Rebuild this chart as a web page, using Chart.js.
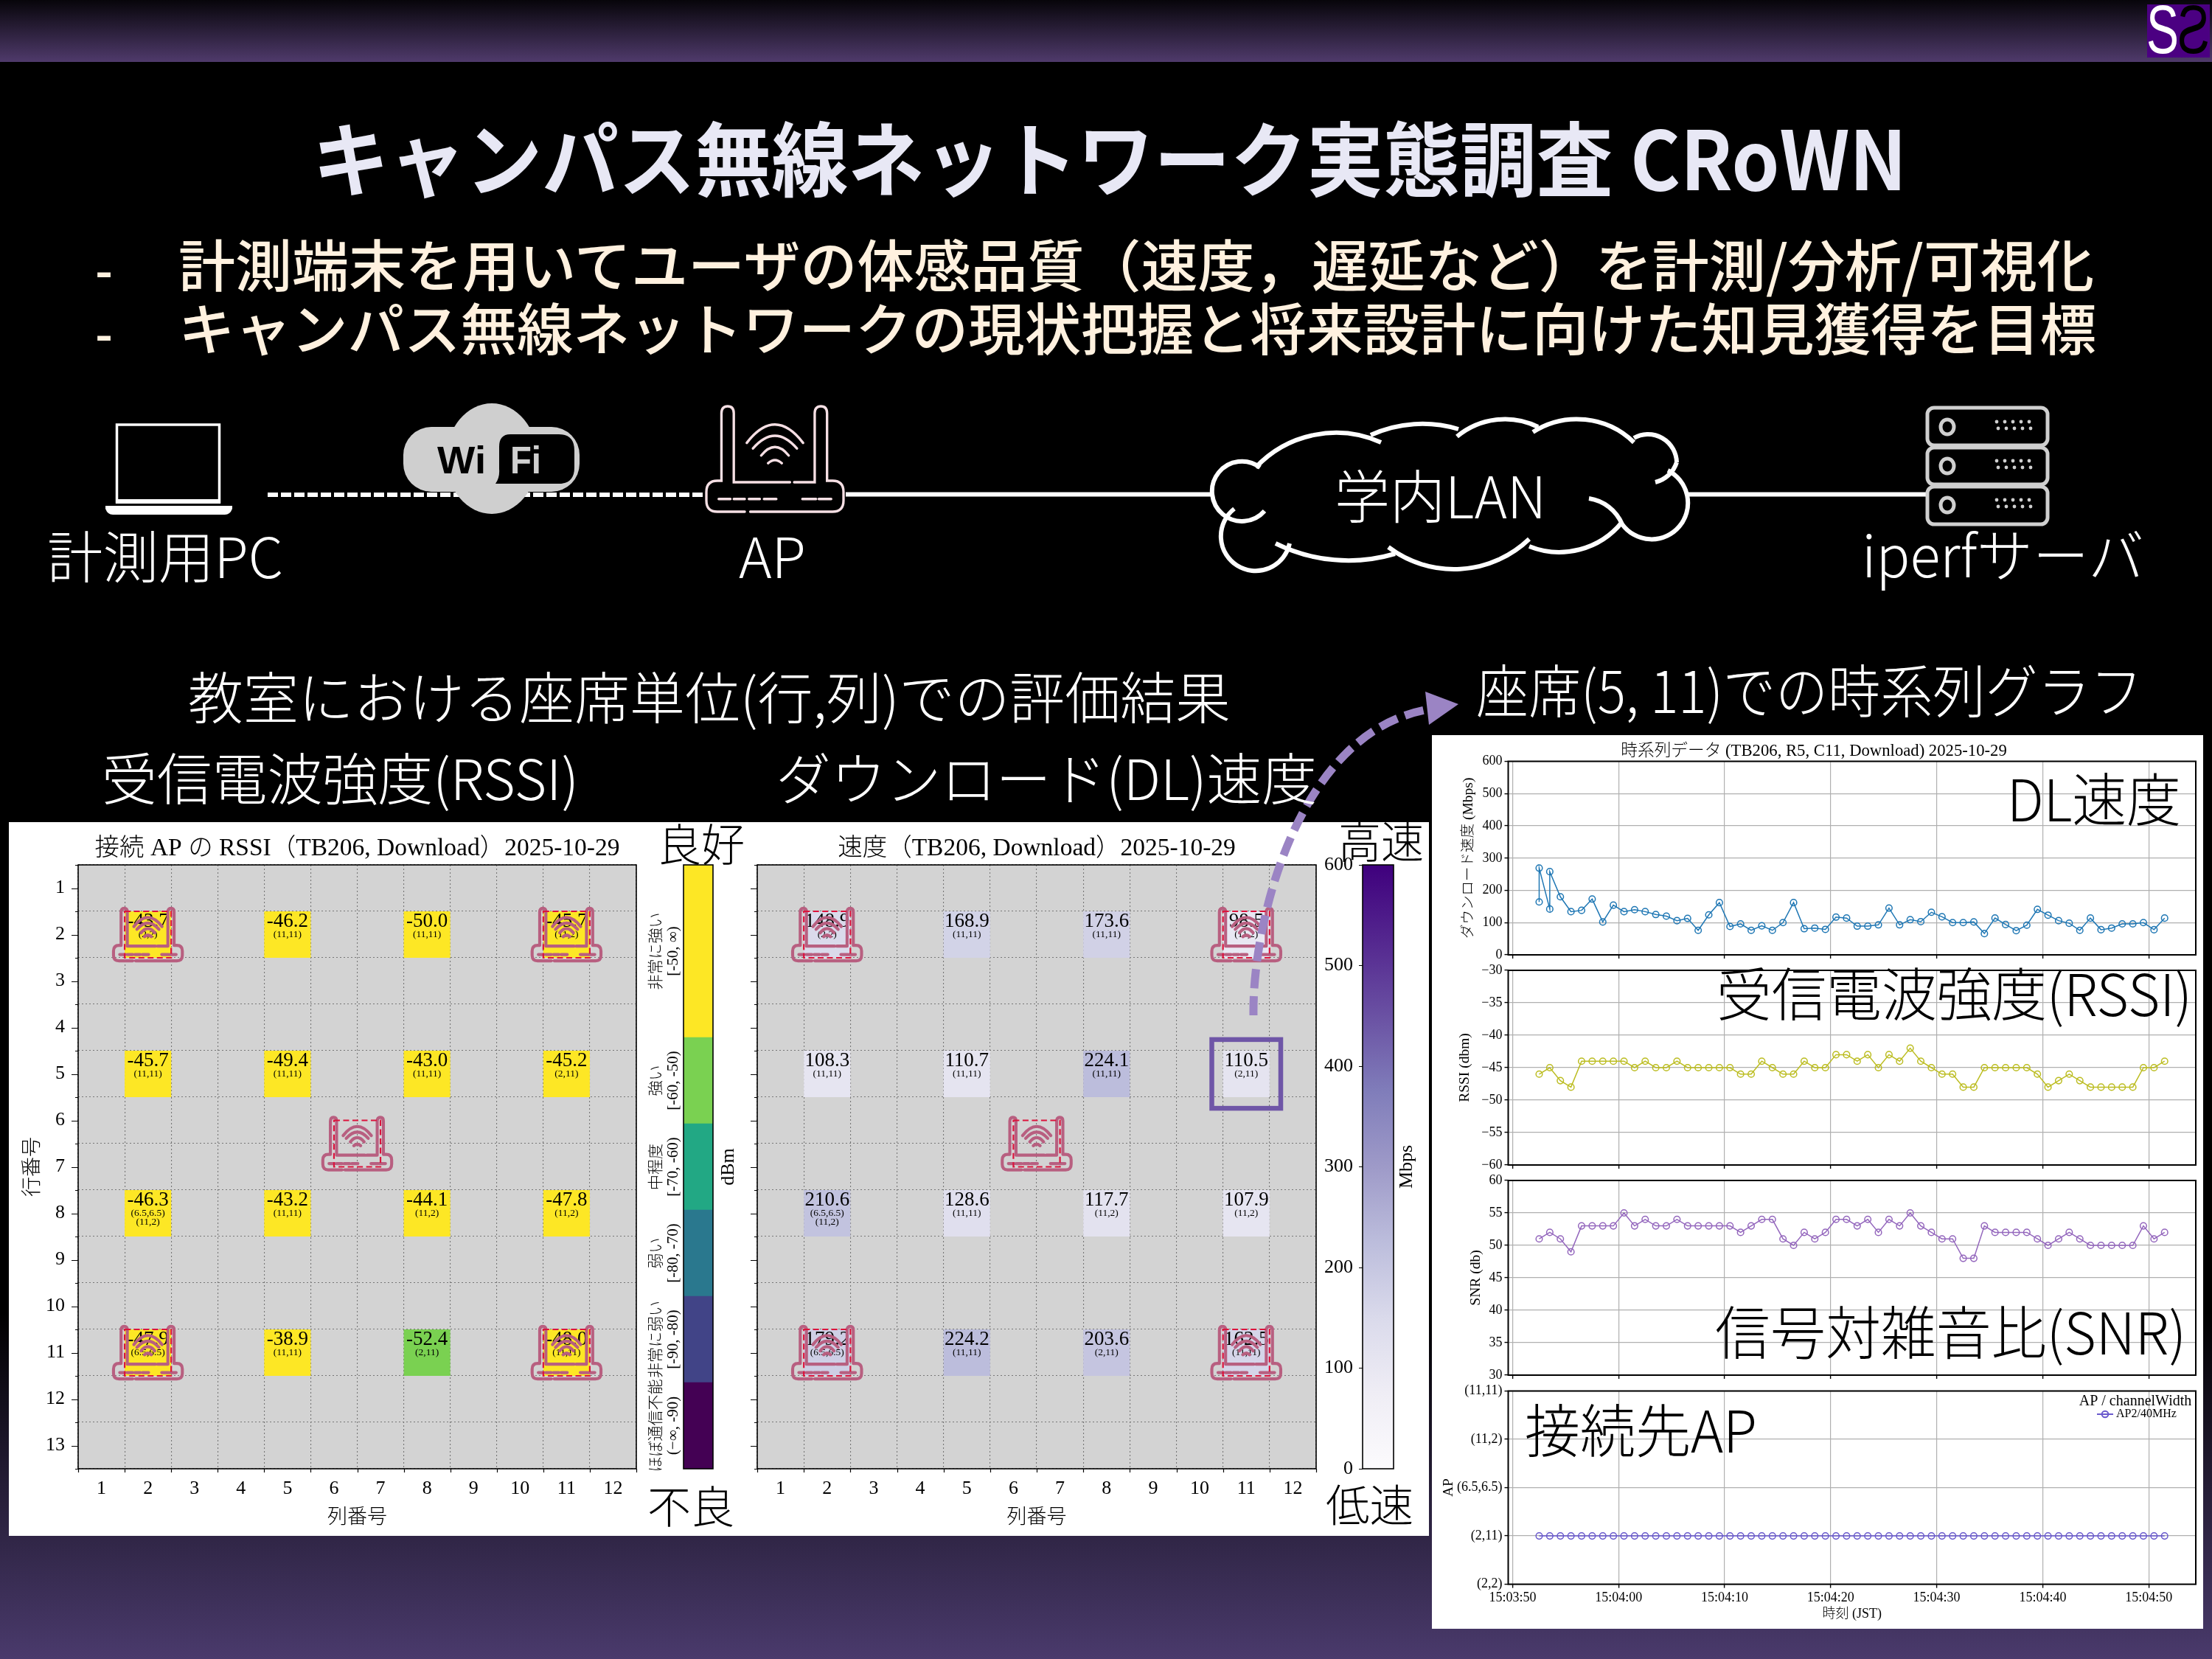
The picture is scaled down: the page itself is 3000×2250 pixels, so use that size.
<!DOCTYPE html>
<html lang="ja"><head><meta charset="utf-8">
<script src="https://cdn.jsdelivr.net/npm/chart.js@4"></script>
<style>
html,body{margin:0;padding:0;width:3000px;height:2250px;overflow:hidden}
body{position:relative;background:linear-gradient(180deg,#000 0,#000 1780px,#4a3a6c 2250px)}
#band{position:absolute;left:0;top:0;width:3000px;height:84px;background:linear-gradient(180deg,#07050a 0,#4f3a6b 100%)}
.panel{position:absolute;background:#fff}
canvas{position:absolute;display:block}
.t{position:absolute;white-space:nowrap;line-height:1;transform-origin:0 50%;z-index:6;font-family:"Noto Sans CJK JP"}
svg{position:absolute;left:0;top:0}
</style></head><body>
<div id="band"></div>
<div class="panel" style="left:12px;top:1115px;width:1926px;height:968px"></div>
<div class="panel" style="left:1942px;top:997px;width:1046px;height:1212px"></div>
<canvas id="rssiMap" width="870" height="968" style="left:12px;top:1115px"></canvas>
<canvas id="speedMap" width="810" height="968" style="left:990px;top:1115px"></canvas>
<canvas id="rssiBar" width="140" height="835" style="left:870px;top:1165px"></canvas>
<canvas id="speedBar" width="150" height="865" style="left:1790px;top:1150px"></canvas>
<canvas id="dlChart" width="1046" height="313" style="left:1942px;top:997px"></canvas>
<canvas id="rssiChart" width="1046" height="299" style="left:1942px;top:1296px"></canvas>
<canvas id="snrChart" width="1046" height="299" style="left:1942px;top:1581px"></canvas>
<canvas id="apChart" width="1046" height="343" style="left:1942px;top:1866px"></canvas>
<svg id="deco" width="3000" height="2250" viewBox="0 0 3000 2250" style="z-index:5">
  <!-- logo -->
  <rect x="2912" y="6" width="85" height="72" fill="#4b0082"/>
  <text x="2911" y="72" font-family="Liberation Sans" font-size="92" fill="#fff" textLength="44" lengthAdjust="spacingAndGlyphs">S</text>
  <text transform="translate(2997,72) scale(-1,1)" font-family="Liberation Sans" font-size="92" fill="#000" textLength="44" lengthAdjust="spacingAndGlyphs">S</text>
  <!-- laptop -->
  <rect x="158.5" y="576" width="139" height="105" fill="none" stroke="#fff" stroke-width="3.5"/>
  <rect x="157" y="677" width="142" height="6" fill="#fff"/>
  <path d="M143 686H315V690Q312 698 305 698H153Q146 698 143 690Z" fill="#fff"/>
  <!-- links -->
  <line x1="363" y1="671" x2="958" y2="671" stroke="#fff" stroke-width="6" stroke-dasharray="14 4"/>
  <line x1="1147" y1="670.5" x2="1646" y2="670.5" stroke="#fff" stroke-width="6"/>
  <line x1="2288" y1="670.5" x2="2612" y2="670.5" stroke="#fff" stroke-width="6"/>
  <!-- wifi -->
  <ellipse cx="667" cy="622" rx="62" ry="75" fill="#cfcfcf"/>
  <rect x="547" y="579" width="239" height="88" rx="38" fill="#cfcfcf"/>
  <path d="M692 589H758Q779 589 779 611V634Q779 656 758 656H672Q678 648 677 636V606Q677 589 692 589Z" fill="#000"/>
  <text x="593" y="642" font-family="Liberation Sans" font-weight="700" font-size="52" fill="#000" textLength="66" lengthAdjust="spacingAndGlyphs">Wi</text>
  <text x="692" y="642" font-family="Liberation Sans" font-weight="700" font-size="52" fill="#cfcfcf" textLength="42" lengthAdjust="spacingAndGlyphs">Fi</text>
  <!-- AP -->
  <svg id="apIcon" x="958" y="551" width="186" height="143" viewBox="0 0 100 75" preserveAspectRatio="none" overflow="visible"><path id="apPath" fill="none" stroke="#f6dfe4" stroke-width="1.8" stroke-linecap="round"/></svg>
  <!-- cloud -->
  <path id="cloud" fill="none" stroke="#fff" stroke-width="6"/>
  <!-- server -->
  <g fill="none" stroke="#cfcfcf" stroke-width="5">
    <rect x="2614" y="553" width="163" height="51" rx="9"/>
    <rect x="2614" y="607" width="163" height="50" rx="9"/>
    <rect x="2614" y="660" width="163" height="51" rx="9"/>
    <ellipse cx="2641" cy="579" rx="9" ry="10"/>
    <ellipse cx="2641" cy="632" rx="9" ry="10"/>
    <ellipse cx="2641" cy="685" rx="9" ry="10"/>
  </g>
  <g id="dots" fill="#cfcfcf"></g>
  <!-- arrow -->
  <path d="M1700 1377C1698 1250 1762 985 1945 961" fill="none" stroke="#9b84c4" stroke-width="11" stroke-dasharray="26 11"/>
  <path d="M1978 955L1933 938L1938 983Z" fill="#9b84c4"/>
</svg>
<script>
/* ---------- data ---------- */
const columns=[1,2,3,4,5,6,7,8,9,10,11,12];
const rowTicks=[1,2,3,4,5,6,7,8,9,10,11,12,13];
const seatRows=[2,5,8,11];
const seatCols=[2,5,8,11];
const rssiRow2=[-43.7,-46.2,-50.0,-45.7];
const rssiRow5=[-45.7,-49.4,-43.0,-45.2];
const rssiRow8=[-46.3,-43.2,-44.1,-47.8];
const rssiRow11=[-47.9,-38.9,-52.4,-48.0];
const speedRow2=[148.9,168.9,173.6,98.5];
const speedRow5=[108.3,110.7,224.1,110.5];
const speedRow8=[210.6,128.6,117.7,107.9];
const speedRow11=[179.2,224.2,203.6,162.5];
const apRow2=['(2,2)','(11,11)','(11,11)','(11,2)'];
const apRow5=['(11,11)','(11,11)','(11,11)','(2,11)'];
const apRow8=['(6.5,6.5)|(11,2)','(11,11)','(11,2)','(11,2)'];
const apRow11=['(6.5,6.5)','(11,11)','(2,11)','(11,11)'];
const apCols=[2,2,6.5,11,11];
const apRows=[2,11,6.5,2,11];
const bandLo=[-100,-90,-80,-70,-60,-50];
const bandHi=[-90,-80,-70,-60,-50,-30];
const bandColors=['#440154','#414487','#2a788e','#22a884','#7ad151','#fde725'];
const bandNames=['ほぼ通信不能','非常に弱い','弱い','中程度','強い','非常に強い'];
const bandRanges=['(−∞, -90)','[-90, -80)','[-80, -70)','[-70, -60)','[-60, -50)','[-50, ∞)'];
const speedTicks=[0,100,200,300,400,500,600];
const purples=['#fcfbfd','#efedf5','#dadaeb','#bcbddc','#9e9ac8','#807dba','#6a51a3','#54278f','#3f007d'];
const timeTicks=[0,10,20,30,40,50,60];
const timeLabels=['15:03:50','15:04:00','15:04:10','15:04:20','15:04:30','15:04:40','15:04:50'];
const dlTimes=[2.5,2.5,3.5,3.5,4.5,5.5,6.5,7.5,8.5,9.5,10.5,11.5,12.5,13.5,14.5,15.5,16.5,17.5,18.5,19.5,20.5,21.5,22.5,23.5,24.5,25.5,26.5,27.5,28.5,29.5,30.5,31.5,32.5,33.5,34.5,35.5,36.5,37.5,38.5,39.5,40.5,41.5,42.5,43.5,44.5,45.5,46.5,47.5,48.5,49.5,50.5,51.5,52.5,53.5,54.5,55.5,56.5,57.5,58.5,59.5,60.5,61.5];
const dlValues=[164,269,142,258,180,134,138,173,102,154,134,140,134,125,120,106,113,76,124,162,88,96,76,90,76,100,162,81,83,79,117,114,89,89,93,145,93,109,103,132,118,100,100,102,66,114,94,75,92,141,123,106,98,76,114,78,83,96,96,100,78,114];
const sampleTimes=[2.5,3.5,4.5,5.5,6.5,7.5,8.5,9.5,10.5,11.5,12.5,13.5,14.5,15.5,16.5,17.5,18.5,19.5,20.5,21.5,22.5,23.5,24.5,25.5,26.5,27.5,28.5,29.5,30.5,31.5,32.5,33.5,34.5,35.5,36.5,37.5,38.5,39.5,40.5,41.5,42.5,43.5,44.5,45.5,46.5,47.5,48.5,49.5,50.5,51.5,52.5,53.5,54.5,55.5,56.5,57.5,58.5,59.5,60.5,61.5];
const rssiValues=[-46,-45,-47,-48,-44,-44,-44,-44,-44,-45,-44,-45,-45,-44,-45,-45,-45,-45,-45,-46,-46,-44,-45,-46,-46,-44,-45,-45,-43,-43,-44,-43,-45,-43,-44,-42,-44,-45,-46,-46,-48,-48,-45,-45,-45,-45,-45,-46,-48,-47,-46,-47,-48,-48,-48,-48,-48,-45,-45,-44];
const snrValues=[51,52,51,49,53,53,53,53,55,53,54,53,53,54,53,53,53,53,53,52,53,54,54,51,50,52,51,52,54,54,53,54,52,54,53,55,53,52,51,51,48,48,53,52,52,52,52,51,50,51,52,51,50,50,50,50,50,53,51,52];
const apSeries=[1,1,1,1,1,1,1,1,1,1,1,1,1,1,1,1,1,1,1,1,1,1,1,1,1,1,1,1,1,1,1,1,1,1,1,1,1,1,1,1,1,1,1,1,1,1,1,1,1,1,1,1,1,1,1,1,1,1,1,1];
const apNames=['(2,2)','(2,11)','(6.5,6.5)','(11,2)','(11,11)'];

/* ---------- helpers ---------- */
const SERIF='"Liberation Serif","Noto Sans CJK JP"';
Chart.defaults.font.family=SERIF;
Chart.defaults.font.weight='300';
Chart.defaults.color='#000';
Chart.defaults.animation=false;
function hex(h){return [1,3,5].map(i=>parseInt(h.substr(i,2),16));}
function purpleAt(v){const f=Math.max(0,Math.min(1,v/600))*(purples.length-1),i=Math.min(purples.length-2,Math.floor(f)),a=hex(purples[i]),b=hex(purples[i+1]);
  return 'rgb('+a.map((c,k)=>Math.round(c+(b[k]-c)*(f-i))).join(',')+')';}
function bandAt(v){for(let i=bandLo.length-1;i>=0;i--) if(v>=bandLo[i]) return bandColors[i]; return bandColors[0];}
const ROUTER='M28 75H8Q0 75 0 67V61Q0 53 8 53H11V5Q11 0 15.5 0Q20 0 20 5V54H61M64 54H79V5Q79 0 83.5 0Q88 0 88 5V53H92Q100 53 100 61V67Q100 75 92 75H32'+
 'M9 66H17.5M20 66H28M31 66H39M42 66H51M70 66H80M82 66H91'+
 'M29.5 26Q50 0 70.5 26M34 30Q50 12 66 30M40 35Q50 23 60 35M45 40.5Q50 36 55 40.5';
document.getElementById('apPath').setAttribute('d',ROUTER);
const routerPath=new Path2D(ROUTER);
const frame={id:'frame',afterDraw(c){const a=c.chartArea,x=c.ctx;x.save();x.strokeStyle='#000';x.lineWidth=c.options.frameWidth||1.6;x.strokeRect(a.left,a.top,a.right-a.left,a.bottom-a.top);x.restore();}};

function heatChart(id,rowsData,colorOf,title,padLeftW,padRight,yLabels,yTitle,hi){
  const cells=[];
  seatRows.forEach((r,i)=>seatCols.forEach((c,j)=>cells.push({x:c,y:[r-.5,r+.5],v:rowsData[i][j],ap:[apRow2,apRow5,apRow8,apRow11][i][j]})));
  columns.forEach(c=>cells.push({x:c,y:null}));
  const halfTicks=[];for(let i=0;i<=24;i++)halfTicks.push(.5+i*.5);
  const vTicks=[];for(let i=0;i<=26;i++)vTicks.push(.5+i*.5);
  const gridCol=ctx=>Number.isInteger(ctx.tick.value)?'rgba(0,0,0,0)':'#777';
  const overlay={id:'overlay',
    beforeDraw(c){const a=c.chartArea,x=c.ctx;x.save();x.fillStyle='#d3d3d3';x.fillRect(a.left,a.top,a.right-a.left,a.bottom-a.top);x.restore();},
    afterDatasetsDraw(c){const x=c.ctx,sx=c.scales.x,sy=c.scales.y;x.save();x.fillStyle='#000';x.textAlign='center';x.textBaseline='middle';
      cells.forEach(d=>{if(d.v===undefined)return;const px=sx.getPixelForValue(d.x),py=sy.getPixelForValue((d.y[0]+d.y[1])/2);
        x.font='27px "Liberation Serif"';x.fillText(d.v.toFixed(1),px,py-17.5);
        x.font='13.5px "Liberation Serif"';d.ap.split('|').forEach((l,k)=>x.fillText(l,px,py+k*11.5));});
      apCols.forEach((cv,i)=>{const l=sx.getPixelForValue(cv-.5),r=sx.getPixelForValue(cv+.5),t=sy.getPixelForValue(apRows[i]-.5),b=sy.getPixelForValue(apRows[i]+.5);
        const il=sx.getPixelForValue(cv-.74),ir=sx.getPixelForValue(cv+.74),it=sy.getPixelForValue(apRows[i]-.565),ib=sy.getPixelForValue(apRows[i]+.565);
        x.save();x.translate(il,it);x.scale((ir-il)/100,(ib-it)/75);x.strokeStyle='#b85f80';x.lineWidth=4.4;x.lineCap='round';x.lineJoin='round';x.stroke(routerPath);x.restore();
        x.save();x.strokeStyle='#dc143c';x.lineWidth=2.2;x.setLineDash([8,4.5]);x.strokeRect(l,t,r-l,b-t);x.restore();});
      if(hi){x.strokeStyle='#6f56a7';x.lineWidth=6.5;const l=sx.getPixelForValue(hi[0]-.74),r=sx.getPixelForValue(hi[0]+.74),t=sy.getPixelForValue(hi[1]-.74),b=sy.getPixelForValue(hi[1]+.74);x.strokeRect(l,t,r-l,b-t);}
      x.restore();},
    afterDraw(c){const x=c.ctx,sx=c.scales.x,sy=c.scales.y,a=c.chartArea;x.save();x.strokeStyle='#000';x.lineWidth=1.2;x.beginPath();
      halfTicks.forEach(v=>{if(!Number.isInteger(v)){const p=Math.round(sx.getPixelForValue(v))+.5;x.moveTo(p,a.bottom);x.lineTo(p,a.bottom+5);}});
      vTicks.forEach(v=>{const p=Math.round(sy.getPixelForValue(v))+.5,len=Number.isInteger(v)?9:4;x.moveTo(a.left,p);x.lineTo(a.left-len,p);});
      x.stroke();x.restore();}};
  return new Chart(document.getElementById(id),{type:'bar',
    data:{datasets:[{data:cells,backgroundColor:ctx=>ctx.raw&&ctx.raw.v!==undefined?colorOf(ctx.raw.v):'rgba(0,0,0,0)',borderWidth:0,barPercentage:2,categoryPercentage:1}]},
    plugins:[overlay,frame],
    options:{responsive:false,devicePixelRatio:1,layout:{autoPadding:false,padding:{right:padRight}},
      plugins:{legend:{display:false},tooltip:{enabled:false},
        title:{display:true,text:title,fullSize:false,font:{size:33.5,weight:'300'},padding:{top:16,bottom:1.8}}},
      scales:{
        x:{type:'linear',offset:false,min:.5,max:12.5,afterBuildTicks:s=>{s.ticks=halfTicks.map(v=>({value:v}));},
          grid:{offset:false,color:gridCol,lineWidth:1.1,drawTicks:false},border:{display:false,dash:[2,3]},
          ticks:{autoSkip:false,maxRotation:0,padding:12,font:{size:26},callback:v=>Number.isInteger(v)?String(columns[v-1]):''},
          title:{display:true,text:'列番号',font:{size:27},padding:{top:0,bottom:8}},
          afterFit:s=>{s.height=91;}},
        y:{type:'linear',reverse:true,min:.5,max:13.5,afterBuildTicks:s=>{s.ticks=vTicks.map(v=>({value:v}));},
          grid:{color:gridCol,lineWidth:1.1,drawTicks:false},border:{display:false,dash:[2,3]},
          ticks:{display:yLabels,autoSkip:false,padding:18,font:{size:26},callback:v=>Number.isInteger(v)?String(rowTicks[v-1]):''},
          title:{display:!!yTitle,text:yTitle,font:{size:27},padding:{top:17,bottom:0}},
          afterFit:s=>{s.width=padLeftW;}}
      }}});
}
heatChart('rssiMap',[rssiRow2,rssiRow5,rssiRow8,rssiRow11],bandAt,'接続 AP の RSSI（TB206, Download）2025-10-29',94,19,true,'行番号',null);
heatChart('speedMap',[speedRow2,speedRow5,speedRow8,speedRow11],purpleAt,'速度（TB206, Download）2025-10-29',37,15,false,'',[11,5]);

/* colour bars */
new Chart(document.getElementById('rssiBar'),{type:'bar',
  data:{labels:[''],datasets:bandLo.map((lo,i)=>({data:[[lo,bandHi[i]]],backgroundColor:bandColors[i],borderWidth:0,barPercentage:1,categoryPercentage:1,grouped:false}))},
  plugins:[frame,{id:'cbLabels',afterDraw(c){const x=c.ctx,a=c.chartArea,s=c.scales.y;x.save();x.fillStyle='#000';x.textAlign='center';x.textBaseline='middle';
    bandLo.forEach((lo,i)=>{const my=s.getPixelForValue((lo+bandHi[i])/2);
      x.save();x.translate(a.left-39,my);x.rotate(-Math.PI/2);x.font='300 21px "Noto Sans CJK JP"';x.fillText(bandNames[i],0,0);x.restore();
      x.save();x.translate(a.left-14,my);x.rotate(-Math.PI/2);x.font='21px "Liberation Serif"';x.fillText(bandRanges[i],0,0);x.restore();});
    x.save();x.translate(a.right+21,(a.top+a.bottom)/2);x.rotate(-Math.PI/2);x.font='26px "Liberation Serif"';x.fillText('dBm',0,0);x.restore();x.restore();}}],
  options:{responsive:false,devicePixelRatio:1,layout:{autoPadding:false,padding:{left:57,right:43,top:8,bottom:8}},
    plugins:{legend:{display:false},tooltip:{enabled:false}},
    scales:{x:{display:false},y:{display:false,min:-100,max:-30}}}});
new Chart(document.getElementById('speedBar'),{type:'bar',
  data:{labels:[''],datasets:[{data:[[speedTicks[0],speedTicks[speedTicks.length-1]]],borderWidth:0,barPercentage:1,categoryPercentage:1,
    backgroundColor:ctx=>{const s=ctx.chart.scales.y;if(!s)return purples[0];const p0=s.getPixelForValue(0),p1=s.getPixelForValue(600);if(!isFinite(p0)||!isFinite(p1))return purples[0];const g=ctx.chart.ctx.createLinearGradient(0,p0,0,p1);purples.forEach((p,i)=>g.addColorStop(i/(purples.length-1),p));return g;}}]},
  plugins:[frame,{id:'mbps',afterDraw(c){const x=c.ctx,a=c.chartArea;x.save();x.fillStyle='#000';x.textAlign='center';x.textBaseline='middle';x.translate(a.right+18,(a.top+a.bottom)/2);x.rotate(-Math.PI/2);x.font='26px "Liberation Serif"';x.fillText('Mbps',0,0);x.restore();}}],
  options:{responsive:false,devicePixelRatio:1,layout:{autoPadding:false,padding:{right:50,top:23,bottom:23}},
    plugins:{legend:{display:false},tooltip:{enabled:false}},
    scales:{x:{display:false},y:{min:0,max:600,afterBuildTicks:s=>{s.ticks=speedTicks.map(v=>({value:v}));},
      grid:{drawOnChartArea:false,tickLength:5,tickColor:'#000'},border:{display:false},
      ticks:{padding:8,font:{size:26}},afterFit:s=>{s.width=58;s.paddingTop=0;s.paddingBottom=0;}}}}});

/* time series */
function tsChart(id,times,vals,color,o){
  const last=!!o.last;
  return new Chart(document.getElementById(id),{type:'line',
    data:{datasets:[{label:o.label||'',data:times.map((t,i)=>({x:t,y:vals[i]})),borderColor:color,borderWidth:1.5,tension:0,
      pointRadius:4.3,pointBorderWidth:1.5,pointBorderColor:color,pointBackgroundColor:'rgba(0,0,0,0)'}]},
    plugins:[frame].concat(o.extra||[]),
    options:{responsive:false,devicePixelRatio:1,frameWidth:2,layout:{autoPadding:false,padding:{right:10,top:o.padTop||0}},
      plugins:{legend:{display:false},tooltip:{enabled:false},
        title:o.title?{display:true,text:o.title,font:{size:22.7,weight:'300'},padding:{top:8,bottom:0.3}}:{display:false}},
      scales:{
        x:{type:'linear',min:-.42,max:64.44,afterBuildTicks:s=>{s.ticks=timeTicks.map(v=>({value:v}));},
          grid:{color:'#b0b0b0',lineWidth:1.2,tickLength:5,tickColor:'#000',tickWidth:1.4},border:{display:false},
          ticks:{display:last,autoSkip:false,maxRotation:0,padding:3,font:{size:18},callback:v=>timeLabels[timeTicks.indexOf(v)]},
          title:{display:last,text:'時刻 (JST)',font:{size:18},padding:{top:0,bottom:9}},
          afterFit:s=>{s.height=last?60.4:15;s.paddingLeft=0;s.paddingRight=0;}},
        y:{min:o.min,max:o.max,ticks:{stepSize:o.step,autoSkip:false,padding:3,font:{size:18},callback:o.fmt||(v=>String(v))},
          grid:{color:'#b0b0b0',lineWidth:1.2,tickLength:5,tickColor:'#000',tickWidth:1.4},border:{display:false},
          title:{display:true,text:o.yTitle,font:{size:19.5},padding:{top:o.titlePad,bottom:0}},
          afterFit:s=>{s.width=103.5;s.paddingTop=0;s.paddingBottom=0;}}
      }}});
}
tsChart('dlChart',dlTimes,dlValues,'#1f77b4',{title:'時系列データ (TB206, R5, C11, Download) 2025-10-29',min:0,max:600,step:100,yTitle:'ダウンロード速度 (Mbps)',titlePad:38});
tsChart('rssiChart',sampleTimes,rssiValues,'#bcbd22',{padTop:20,min:-60,max:-30,step:5,yTitle:'RSSI (dbm)',titlePad:33,fmt:v=>'−'+Math.abs(v)});
tsChart('snrChart',sampleTimes,snrValues,'#9467bd',{padTop:20,min:30,max:60,step:5,yTitle:'SNR (db)',titlePad:48});
tsChart('apChart',sampleTimes,apSeries,'#6a5acd',{padTop:20.5,min:0,max:4,step:1,yTitle:'AP',titlePad:11,last:true,label:'AP2/40MHz',fmt:v=>apNames[v],
  extra:[{id:'apLegend',afterDraw(c){const x=c.ctx,a=c.chartArea;x.save();x.fillStyle='#000';x.textBaseline='middle';
    x.font='20px "Liberation Serif"';x.textAlign='center';x.fillText('AP / channelWidth',a.right-82,a.top+14.5);
    x.strokeStyle='#6a5acd';x.lineWidth=2;x.beginPath();x.moveTo(a.right-134,a.top+31.5);x.lineTo(a.right-112,a.top+31.5);x.stroke();
    x.beginPath();x.arc(a.right-123,a.top+31.5,4.3,0,Math.PI*2);x.stroke();
    x.font='16px "Liberation Serif"';x.textAlign='left';x.fillText(c.data.datasets[0].label,a.right-108,a.top+31.5);x.restore();}}]});

/* decorations built from hand-read outline points */
const cloudArcs=[[1709,634,1644,662,1715,693],[1674,690,1658,713,1749,737],[1730,737,1806,759,1892,751],[1883,742,1969,772,2074,731],[2074,741,2150,743,2200,708],[2155,676,2190,695,2200,711],[2200,711,2288,694,2262,638],[2245,654,2267,640,2274,627],[2274,627,2265,603,2216,594],[2216,600,2149,569,2079,586],[2086,579,2031,569,1976,592],[1978,582,1921,575,1859,590],[1873,600,1787,589,1703,634]];
function arcPath(s){const [ax,ay,bx,by,cx,cy]=s;const d=2*(ax*(by-cy)+bx*(cy-ay)+cx*(ay-by));
  const ux=((ax*ax+ay*ay)*(by-cy)+(bx*bx+by*by)*(cy-ay)+(cx*cx+cy*cy)*(ay-by))/d,uy=((ax*ax+ay*ay)*(cx-bx)+(bx*bx+by*by)*(ax-cx)+(cx*cx+cy*cy)*(bx-ax))/d;
  const r=Math.hypot(ax-ux,ay-uy),sweep=((bx-ax)*(cy-by)-(by-ay)*(cx-bx))>0?1:0,large=((ax-bx)*(cx-bx)+(ay-by)*(cy-by))>0?1:0;
  return 'M'+ax+' '+ay+'A'+r.toFixed(1)+' '+r.toFixed(1)+' 0 '+large+' '+sweep+' '+cx+' '+cy;}
document.getElementById('cloud').setAttribute('d',cloudArcs.map(arcPath).join(''));
const dots=document.getElementById('dots');
[572,625,678].forEach(y0=>{[0,1].forEach(r=>{[0,1,2,3,4].forEach(k=>{const e=document.createElementNS('http://www.w3.org/2000/svg','circle');
  e.setAttribute('cx',2708+k*11+(r?2:0));e.setAttribute('cy',y0+r*9);e.setAttribute('r',2.4);dots.appendChild(e);});});});

/* slide text */
function T(s,x0,x1,cy,size,weight,color){const e=document.createElement('div');e.className='t';e.textContent=s;
  e.style.cssText+='left:'+x0+'px;top:'+(cy-size/2)+'px;font-size:'+size+'px;font-weight:'+weight+';color:'+color;
  document.body.appendChild(e);const w=e.getBoundingClientRect().width;e.style.transform='scaleX('+((x1-x0)/w).toFixed(4)+')';return e;}
T('キャンパス無線ネットワーク実態調査 CRoWN',424,2586,210,110,700,'#e8e8f5');
T('-',129,153,361,76,500,'#fff1df');
T('-',129,153,447,76,500,'#fff1df');
T('計測端末を用いてユーザの体感品質（速度，遅延など）を計測/分析/可視化',242,2840,356,76,500,'#fff1df');
T('キャンパス無線ネットワークの現状把握と将来設計に向けた知見獲得を目標',242,2843,442,76,500,'#fff1df');
T('計測用PC',64,384,751,76,300,'#fff');
T('AP',1002,1093,751,76,300,'#fff');
T('学内LAN',1810,2097,669,78,300,'#fff');
T('iperfサーバ',2525,2908,749,78,300,'#fff');
T('教室における座席単位(行,列)での評価結果',255,1669,942,76,300,'#fff');
T('受信電波強度(RSSI)',138,785,1052,76,300,'#fff');
T('ダウンロード(DL)速度',1052,1786,1052,76,300,'#fff');
T('座席(5, 11)での時系列グラフ',2002,2906,933,78,300,'#fff');
T('良好',892,1010,1142,60,300,'#000');
T('不良',878,996,2040,60,300,'#000');
T('高速',1815,1931,1138,60,300,'#000');
T('低速',1798,1917,2038,60,300,'#000');
T('DL速度',2722,2958,1080,78,300,'#000');
T('受信電波強度(RSSI)',2328,2973,1344,78,300,'#000');
T('信号対雑音比(SNR)',2326,2965,1803,78,300,'#000');
T('接続先AP',2068,2383,1936,78,300,'#000');
</script>
</body></html>
